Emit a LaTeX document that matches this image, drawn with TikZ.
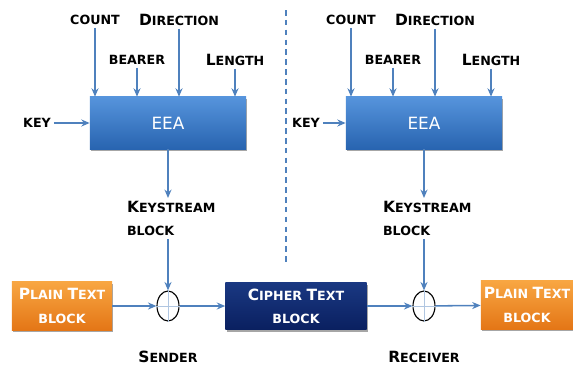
\documentclass[tikz,border=0pt]{standalone}
\usepackage{fontspec}
\setmainfont{DejaVu Sans}
\usepackage{tikz}
\usetikzlibrary{shapes.geometric, arrows.meta, positioning, shadows}
\usepackage{xcolor}
\definecolor{cArrow}{RGB}{79,129,189}
\definecolor{cEeaTop}{RGB}{86,148,220}
\definecolor{cEeaBot}{RGB}{40,100,176}
\definecolor{cPlainTop}{RGB}{248,166,66}
\definecolor{cPlainBot}{RGB}{228,118,22}
\definecolor{cCipherTop}{RGB}{26,56,130}
\definecolor{cCipherBot}{RGB}{10,32,96}
\newcommand{\capL}[1]{{\fontsize{11}{12}\selectfont #1}}
\tikzset{
  lbl/.style={font=\fontsize{9}{16.5}\selectfont\bfseries, inner sep=2pt},
  boxshadow/.style={drop shadow={shadow xshift=1pt, shadow yshift=-1.5pt,
                    opacity=0.35, fill=black}},
  eeanode/.style={rectangle, minimum width=3.9cm, minimum height=1.3cm,
                  top color=cEeaTop, bottom color=cEeaBot, boxshadow,
                  text=white, font=\fontsize{12}{14}\selectfont},
  plainnode/.style={lbl, rectangle, minimum width=2.5cm, minimum height=1.2cm,
                    top color=cPlainTop, bottom color=cPlainBot, boxshadow,
                    text=white, align=center},
  ciphernode/.style={lbl, rectangle, minimum width=3.525cm, minimum height=1.175cm,
                     top color=cCipherTop, bottom color=cCipherBot, boxshadow,
                     text=white, align=center},
  xornode/.style={ellipse, draw=black, thick, minimum width=0.55cm,
                  minimum height=0.75cm, inner sep=0pt},
  arrow/.style={-{Stealth[length=6pt, width=5pt]}, line width=1.1pt, color=cArrow},
  divider/.style={dashed, dash pattern=on 4pt off 3pt, line width=1pt, color=cArrow}
}
\begin{document}
\begin{tikzpicture}[x=0.025cm, y=-0.025cm]
  \clip (0,0) rectangle (573,368);

  % Divider between sender and receiver
  \draw[divider] (286,10) -- (286,264);

  % EEA with its inputs, keystream output and XOR (both sides)
  \foreach \s/\dx/\kx in {a/0/37, b/256/50} {
    \node[eeanode] (eea\s) at (168+\dx, 123) {EEA};
    \node[lbl] (count\s) at (95+\dx, 20) {COUNT};
    \node[lbl] (dir\s) at (179+\dx, 20) {\capL{D}IRECTION};
    \node[lbl] (bearer\s) at (137+\dx, 60) {BEARER};
    \node[lbl] (length\s) at (235+\dx, 60) {\capL{L}ENGTH};
    \node[lbl] (key\s) at (\kx+\dx, 123) {KEY};
    \node[lbl, anchor=north west, align=left] (ks\s) at (124+\dx, 198)
      {\capL{K}EYSTREAM\\BLOCK};
    \node[xornode] (xor\s) at (168+\dx, 306) {};
    \draw[cArrow!45, thin] (xor\s.north) -- (xor\s.south)
                           (xor\s.west) -- (xor\s.east);
    \draw[arrow] (count\s) -- (count\s |- eea\s.north);
    \draw[arrow] (dir\s) -- (dir\s |- eea\s.north);
    \draw[arrow] (bearer\s) -- (bearer\s |- eea\s.north);
    \draw[arrow] (length\s) -- (length\s |- eea\s.north);
    \draw[arrow] (key\s) -- (eea\s);
    \draw[arrow] (eea\s) -- (eea\s |- ks\s.north);
    \draw[arrow] (ks\s.south -| xor\s) -- (xor\s);
  }

  % Data path
  \node[plainnode] (plaina) at (62, 306) {\capL{P}LAIN \capL{T}EXT\\BLOCK};
  \node[ciphernode] (cipher) at (296, 306) {\capL{C}IPHER \capL{T}EXT\\BLOCK};
  \node[plainnode, minimum width=2.25cm] (plainb) at (527, 305)
    {\capL{P}LAIN \capL{T}EXT\\BLOCK};
  \draw[arrow] (plaina) -- (xora);
  \draw[arrow] (xora) -- (cipher);
  \draw[arrow] (cipher) -- (xorb);
  \draw[arrow] (xorb) -- (plainb);

  \node[lbl] (sender) at (168, 357) {\capL{S}ENDER};
  \node[lbl] (receiver) at (424, 357) {\capL{R}ECEIVER};
\end{tikzpicture}
\end{document}
